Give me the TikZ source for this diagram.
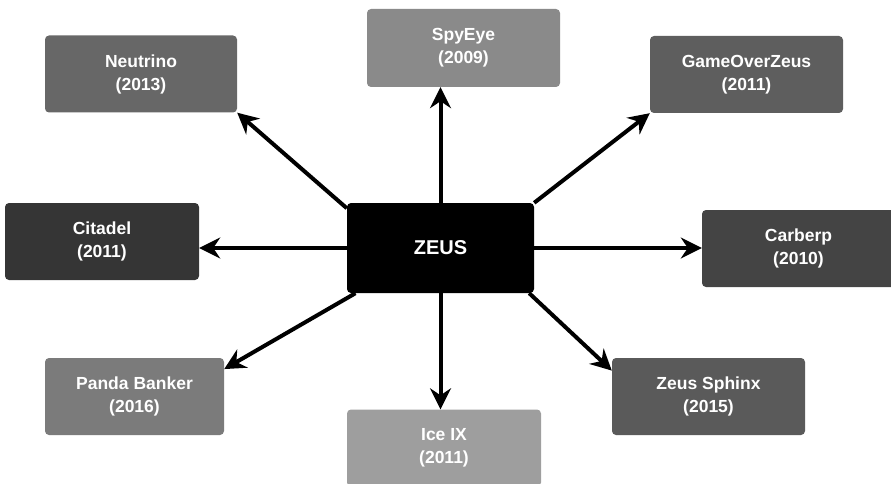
\documentclass[tikz,border=0pt]{standalone}
\usepackage{fontspec}
\setmainfont{Liberation Sans}
\usetikzlibrary{arrows.meta}
\usepackage{xcolor}

\definecolor{neutrinogray}{HTML}{676767}
\definecolor{spyeyegray}{HTML}{8A8A8A}
\definecolor{gameovergray}{HTML}{5E5E5E}
\definecolor{citadelgray}{HTML}{353535}
\definecolor{carberpgray}{HTML}{444444}
\definecolor{pandagray}{HTML}{7B7B7B}
\definecolor{icegray}{HTML}{9E9E9E}
\definecolor{sphinxgray}{HTML}{5A5A5A}

\begin{document}
\begin{tikzpicture}[x=1pt,y=-1pt,every text node part/.style={align=center},
        variant/.style={rectangle,rounded corners=4pt,minimum width=193pt,minimum height=77pt,inner sep=0pt,text=white,font=\fontsize{17.5}{23}\selectfont\bfseries},
        spread/.style={line width=4pt,-{Stealth[length=21pt,width=21pt,inset=7pt]}}]
        \useasboundingbox (0,0) rectangle (891,484);

        \node[variant,fill=black,minimum width=187pt,minimum height=90pt,font=\fontsize{20}{24}\selectfont\bfseries] (zeus) at (440.5,248) {ZEUS};

        \node[variant,fill=neutrinogray,minimum width=192pt] (neutrino) at (141,74) {Neutrino\\(2013)};
        \node[variant,fill=spyeyegray,minimum height=78pt] (spyeye) at (463.5,48) {SpyEye\\(2009)};
        \node[variant,fill=gameovergray] (gameover) at (746.5,74.5) {GameOverZeus\\(2011)};
        \node[variant,fill=citadelgray,minimum width=194pt] (citadel) at (102,241.5) {Citadel\\(2011)};
        \node[variant,fill=carberpgray] (carberp) at (798.5,248.5) {Carberp\\(2010)};
        \node[variant,fill=pandagray,minimum width=179pt] (panda) at (134.5,396.5) {Panda Banker\\(2016)};
        \node[variant,fill=icegray,minimum width=194pt] (iceix) at (444,448) {Ice IX\\(2011)};
        \node[variant,fill=sphinxgray] (sphinx) at (708.5,396.5) {Zeus Sphinx\\(2015)};

        % offshoots of the zeus code base
        \draw[spread] (zeus.157) -- (neutrino.south east);
        \draw[spread] (zeus.north) -- (zeus.north |- spyeye.south);
        \draw[spread] (zeus.north east) -- (gameover.south west);
        \draw[spread] (zeus.west) -- (zeus.west -| citadel.east);
        \draw[spread] (zeus.east) -- (zeus.east -| carberp.west);
        \draw[spread] (zeus.208) -- (panda.17);
        \draw[spread] (zeus.south) -- (zeus.south |- iceix.north);
        \draw[spread] (zeus.333) -- (sphinx.165);
\end{tikzpicture}
\end{document}
